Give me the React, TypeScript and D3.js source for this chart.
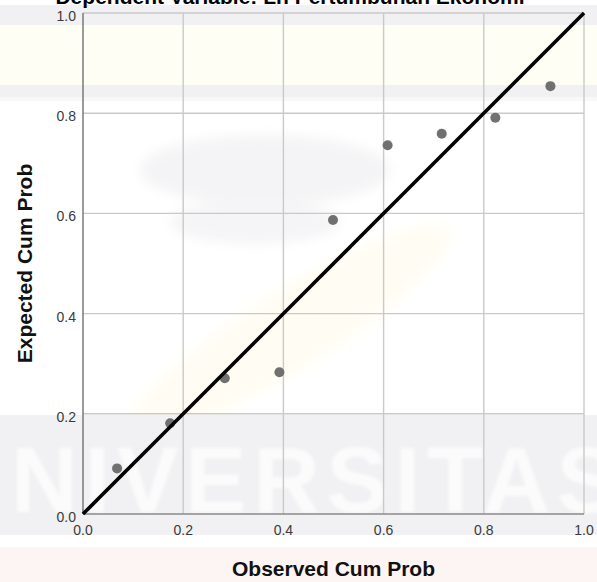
import React from "react";
import * as d3 from "d3";

// P-P plot values
const observedCum = [0.068, 0.174, 0.283, 0.392, 0.499, 0.608, 0.716, 0.823, 0.933];
const expectedCum = [0.091, 0.181, 0.271, 0.283, 0.587, 0.736, 0.759, 0.791, 0.854];
const tickValues = [0, 0.2, 0.4, 0.6, 0.8, 1.0];

const titleText = "Dependent Variable: Ln Pertumbuhan Ekonomi";
const xTitle = "Observed Cum Prob";
const yTitle = "Expected Cum Prob";

const width = 597;
const height = 582;
const margin = { top: 13, right: 13, bottom: 68, left: 83 };

export default function App() {
  const innerW = width - margin.left - margin.right;
  const innerH = height - margin.top - margin.bottom;

  const x = d3.scaleLinear().domain([0, 1]).range([margin.left, margin.left + innerW]);
  const y = d3.scaleLinear().domain([0, 1]).range([margin.top + innerH, margin.top]);
  const fmt = d3.format(".1f");

  const points = observedCum.map((o, i) => ({ o, e: expectedCum[i] }));
  const diag = d3.line<number>().x(d => x(d)).y(d => y(d))([0, 1]);

  const font = "'Liberation Sans', Arial, sans-serif";

  return (
    <svg
      width={width}
      height={height}
      style={{ position: "absolute", left: 0, top: 0, display: "block", background: "#fff" }}
    >
      <defs>
        <filter id="soft" x="-20%" y="-20%" width="140%" height="140%">
          <feGaussianBlur stdDeviation="6" />
        </filter>
        <filter id="softer" x="-5%" y="-5%" width="110%" height="110%">
          <feGaussianBlur stdDeviation="1.5" />
        </filter>
      </defs>

      {/* faint background watermark */}
      <g>
        <rect x={0} y={5} width={width} height={20} fill="#f1f1f3" />
        <rect x={0} y={25} width={width} height={60} fill="#fefef5" />
        <rect x={0} y={85} width={width} height={12} fill="#f1f1f3" />
        <rect x={0} y={97} width={width} height={4} fill="#f8f8f9" />
        <g filter="url(#soft)">
          <ellipse cx={265} cy={170} rx={125} ry={35} fill="#f4f4f6" />
          <ellipse cx={255} cy={222} rx={85} ry={22} fill="#f5f5f7" />
          <ellipse cx={290} cy={330} rx={190} ry={40} fill="#fffdf3" transform="rotate(-32 290 330)" />
        </g>
        <rect x={0} y={415} width={width} height={120} fill="#f1f1f3" />
        <text
          x={-62}
          y={512}
          fontFamily={font}
          fontWeight="bold"
          fontSize={92}
          fill="#fbfbfc"
          textLength={680}
          lengthAdjust="spacing"
          filter="url(#softer)"
        >
          UNIVERSITAS
        </text>
        <rect x={0} y={547} width={width} height={35} fill="#fdf4f4" />
      </g>

      {/* gridlines */}
      <g stroke="#c9c9c9" strokeWidth={1.4}>
        {tickValues.slice(1).map(t => (
          <line key={"gx" + t} x1={x(t)} x2={x(t)} y1={y(0)} y2={y(1)} />
        ))}
        {tickValues.slice(1).map(t => (
          <line key={"gy" + t} x1={x(0)} x2={x(1)} y1={y(t)} y2={y(t)} />
        ))}
      </g>

      {/* axes */}
      <line x1={x(0)} x2={x(0)} y1={y(0)} y2={y(1)} stroke="#707070" strokeWidth={1.4} />
      <line x1={x(0)} x2={x(1)} y1={y(0)} y2={y(0)} stroke="#8a8a8a" strokeWidth={1.4} />

      {/* tick labels */}
      <g fontFamily={font} fontSize={14} fill="#3a3a3a">
        {tickValues.map(t => (
          <text key={"tx" + t} x={x(t)} y={y(0) + 21} textAnchor="middle">
            {fmt(t)}
          </text>
        ))}
        {tickValues.map(t => (
          <text key={"ty" + t} x={x(0) - 7} y={y(t) + 8} textAnchor="end">
            {fmt(t)}
          </text>
        ))}
      </g>

      {/* points */}
      <g fill="#707070">
        {points.map((p, i) => (
          <circle key={i} cx={x(p.o)} cy={y(p.e)} r={5} />
        ))}
      </g>

      {/* reference line */}
      <path d={diag || ""} stroke="#000" strokeWidth={3.6} fill="none" />

      {/* titles */}
      <text x={290} y={4} textAnchor="middle" fontFamily={font} fontWeight="bold" fontSize={21} fill="#000">
        {titleText}
      </text>
      <text
        x={(x(0) + x(1)) / 2}
        y={576}
        textAnchor="middle"
        fontFamily={font}
        fontWeight="bold"
        fontSize={21}
        fill="#111"
      >
        {xTitle}
      </text>
      <text
        transform={`translate(32, ${(y(0) + y(1)) / 2}) rotate(-90)`}
        textAnchor="middle"
        fontFamily={font}
        fontWeight="bold"
        fontSize={21}
        fill="#111"
      >
        {yTitle}
      </text>
    </svg>
  );
}
